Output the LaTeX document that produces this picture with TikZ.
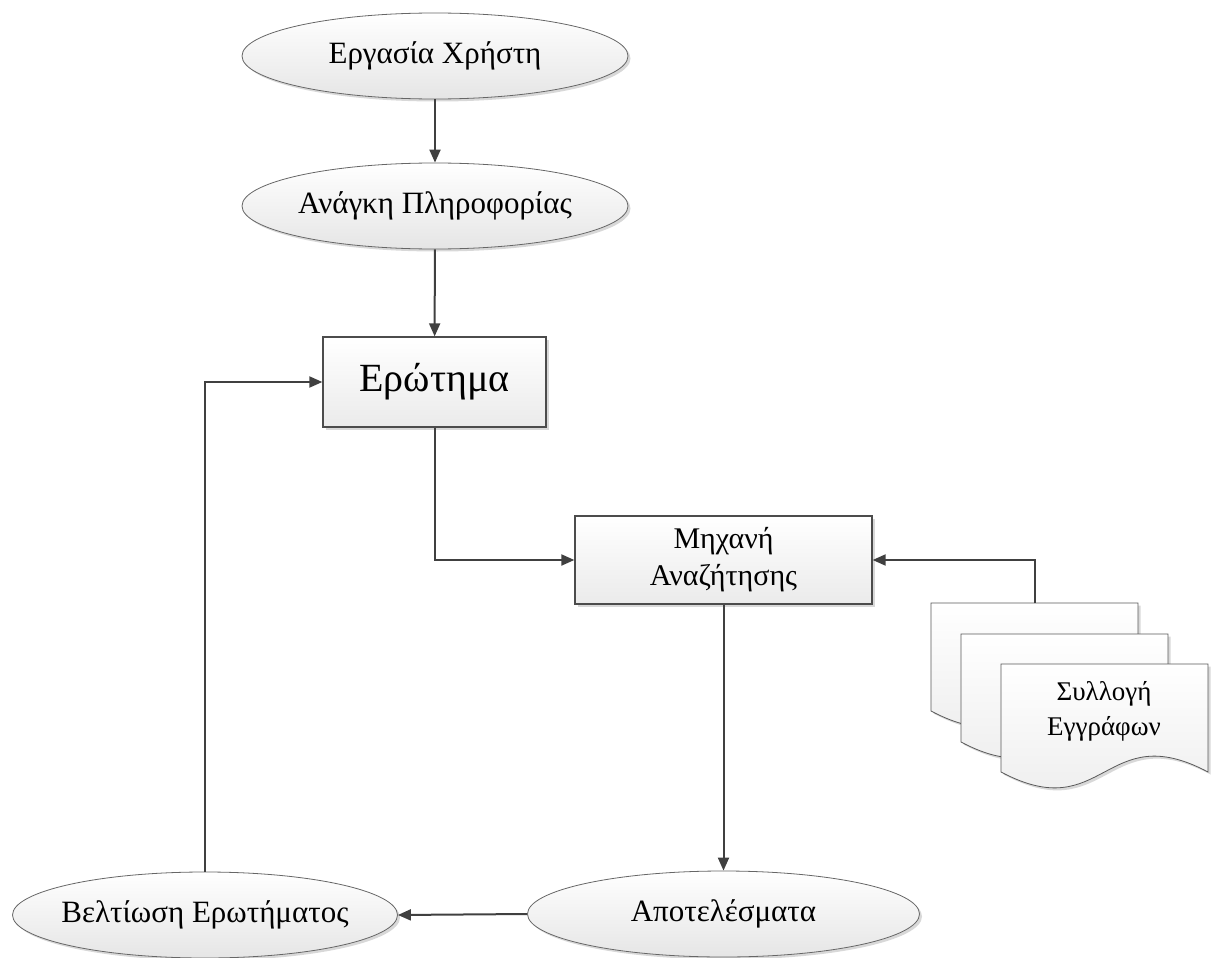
\documentclass[tikz,border=0pt]{standalone}
\usepackage{fontspec}
\setmainfont{Liberation Serif}
\usetikzlibrary{shapes.geometric}
\usetikzlibrary{shadows}
\usetikzlibrary{arrows.meta}

\tikzset{
  shade/.style={drop shadow={shadow xshift=2.5pt, shadow yshift=-2.5pt, fill=gray!60, opacity=0.5}},
  oval/.style={ellipse, shade, draw=black!60, line width=0.8pt, top color=white, bottom color=gray!20,
    minimum width=386pt, minimum height=86pt, inner xsep=-60pt, inner ysep=0pt, font=\fontsize{31}{38}\selectfont},
  box/.style={rectangle, shade, draw=black!70, line width=1.3pt, top color=white, bottom color=gray!16,
    inner sep=0pt, align=center},
  docshape/.style={shade, draw=black!65, line width=0.8pt, top color=white, bottom color=gray!16},
  conn/.style={draw=black!75, line width=2pt, -{Triangle[length=13pt,width=11pt]}},
}

\begin{document}
\begin{tikzpicture}[x=1pt, y=-1pt]
      \useasboundingbox (0,0) rectangle (1211,958);
      \node[oval] (task) at (435,56) {Εργασία Χρήστη};
      \node[oval] (need) at (435,206) {Ανάγκη Πληροφορίας};
      \node[box, minimum width=223pt, minimum height=90pt, font=\fontsize{40}{46}\selectfont] (query) at (434.5,382) {Ερώτημα};
      \node[box, minimum width=297pt, minimum height=88pt, font=\fontsize{30}{37}\selectfont] (engine) at (723.5,560) {Μηχανή\\Αναζήτησης};
      \node[oval, minimum width=392pt] (results) at (723.5,914) {Αποτελέσματα};
      \node[oval, minimum width=385pt] (refine) at (205,915) {Βελτίωση Ερωτήματος};
      \foreach \x/\y in {931/603, 961/634, 1001/664}
        \path[docshape] (\x,\y) -- ({\x+207},\y) -- ({\x+207},{\y+108})
          .. controls ({\x+103.5},{\y+53}) and ({\x+103.5},{\y+163}) .. (\x,{\y+108}) -- cycle;
      \node[align=center, font=\fontsize{27}{35}\selectfont] (docs) at (1104,711) {Συλλογή\\Εγγράφων};
      \coordinate (docstop) at (1035,603);
      \draw[conn] (task) -- (need);
      \draw[conn] (need) -- (query);
      \draw[conn] (query.south) |- (engine.west);
      \draw[conn] (docstop) |- (engine.east);
      \draw[conn] (engine.south) -- (results.north);
      \draw[conn] (results.west) -- (refine.east);
      \draw[conn] (refine.north) |- (query.west);
    \end{tikzpicture}
\end{document}
